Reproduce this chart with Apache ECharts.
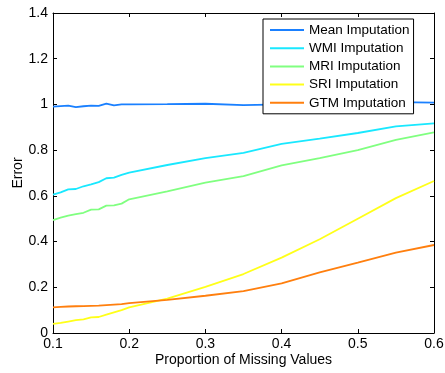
<!DOCTYPE html>
<html>
<head>
<meta charset="utf-8">
<script src="https://cdn.jsdelivr.net/npm/echarts@6/dist/echarts.min.js"></script>
<style>
html, body { margin: 0; padding: 0; background: #fff; }
#chart { width: 445px; height: 373px; }
</style>
</head>
<body>
<div id="chart"></div>
<script>
// proportion of missing values
var proportions = [0.10, 0.11, 0.12, 0.13, 0.14, 0.15, 0.16, 0.17, 0.18, 0.19, 0.20, 0.25, 0.30, 0.35, 0.40, 0.45, 0.50, 0.55, 0.60];
var meanErr = [0.990, 0.993, 0.995, 0.988, 0.992, 0.995, 0.994, 1.004, 0.996, 1.000, 1.000, 1.001, 1.003, 0.997, 1.000, 1.002, 1.005, 1.010, 1.008];
var wmiErr = [0.605, 0.615, 0.628, 0.630, 0.642, 0.650, 0.660, 0.677, 0.680, 0.692, 0.702, 0.735, 0.765, 0.788, 0.827, 0.850, 0.875, 0.904, 0.917];
var mriErr = [0.494, 0.505, 0.514, 0.520, 0.526, 0.540, 0.541, 0.557, 0.558, 0.566, 0.585, 0.620, 0.658, 0.686, 0.733, 0.765, 0.800, 0.845, 0.878];
var sriErr = [0.040, 0.044, 0.050, 0.056, 0.060, 0.068, 0.070, 0.080, 0.090, 0.100, 0.112, 0.150, 0.202, 0.258, 0.330, 0.410, 0.500, 0.590, 0.665];
var gtmErr = [0.112, 0.114, 0.116, 0.117, 0.118, 0.119, 0.120, 0.122, 0.124, 0.126, 0.131, 0.145, 0.163, 0.183, 0.217, 0.265, 0.308, 0.352, 0.385];

var names = ['Mean Imputation', 'WMI Imputation', 'MRI Imputation', 'SRI Imputation', 'GTM Imputation'];
var colors = ['#1a80ff', '#19e8ff', '#80ff80', '#ffff19', '#ff7f0e'];
var values = [meanErr, wmiErr, mriErr, sriErr, gtmErr];

var font = 'Liberation Sans, Arial, Helvetica, sans-serif';

function pairs(ys) {
    var out = [];
    for (var i = 0; i < proportions.length; i++) {
        out.push([proportions[i], ys[i]]);
    }
    return out;
}

var series = [];
for (var k = 0; k < names.length; k++) {
    series.push({
        name: names[k],
        type: 'line',
        symbol: 'none',
        data: pairs(values[k]),
        lineStyle: { color: colors[k], width: 1.8 },
        itemStyle: { color: colors[k] },
        animation: false
    });
}

var tickStyle = { show: true, inside: true, length: 4, lineStyle: { color: '#000', width: 1 } };

var option = {
    backgroundColor: '#fff',
    grid: { left: 53, right: 11, top: 13, bottom: 40, outerBoundsMode: 'none' },
    legend: {
        orient: 'vertical',
        left: 263,
        top: 19,
        data: names,
        icon: 'rect',
        itemWidth: 34,
        itemHeight: 2,
        itemGap: 4.2,
        padding: [4, 4, 4, 7],
        backgroundColor: '#fff',
        borderColor: '#000',
        borderWidth: 1,
        borderRadius: 0,
        textStyle: { fontFamily: font, fontSize: 13.5, color: '#000', lineHeight: 14 }
    },
    xAxis: [
        {
            type: 'value',
            min: 0.1,
            max: 0.6,
            interval: 0.1,
            name: 'Proportion of Missing Values',
            nameLocation: 'middle',
            nameGap: 20,
            nameMoveOverlap: false,
            nameTextStyle: { fontFamily: font, fontSize: 14, color: '#000' },
            axisLine: { show: true, lineStyle: { color: '#000', width: 1 } },
            axisTick: tickStyle,
            axisLabel: { fontFamily: font, fontSize: 14, color: '#000', margin: 4 },
            splitLine: { show: false }
        },
        {
            type: 'value',
            position: 'top',
            min: 0.1,
            max: 0.6,
            interval: 0.1,
            axisLine: { show: true, onZero: false, lineStyle: { color: '#000', width: 1 } },
            axisTick: tickStyle,
            axisLabel: { show: false },
            splitLine: { show: false }
        }
    ],
    yAxis: [
        {
            type: 'value',
            min: 0,
            max: 1.4,
            interval: 0.2,
            name: 'Error',
            nameLocation: 'middle',
            nameGap: 28,
            nameMoveOverlap: false,
            nameTextStyle: { fontFamily: font, fontSize: 14, color: '#000' },
            axisLine: { show: true, lineStyle: { color: '#000', width: 1 } },
            axisTick: tickStyle,
            axisLabel: {
                fontFamily: font, fontSize: 14, color: '#000', margin: 5,
                formatter: function (v) { return String(Math.round(v * 10) / 10); }
            },
            splitLine: { show: false }
        },
        {
            type: 'value',
            position: 'right',
            min: 0,
            max: 1.4,
            interval: 0.2,
            axisLine: { show: true, onZero: false, lineStyle: { color: '#000', width: 1 } },
            axisTick: tickStyle,
            axisLabel: { show: false },
            splitLine: { show: false }
        }
    ],
    series: series
};

var mychart = echarts.init(document.getElementById('chart'));
mychart.setOption(option);
</script>
</body>
</html>
